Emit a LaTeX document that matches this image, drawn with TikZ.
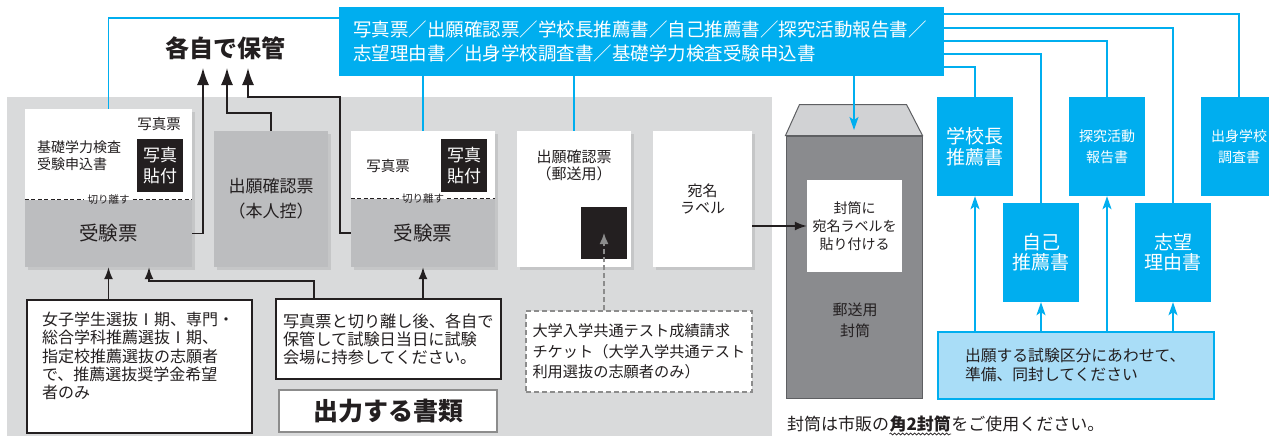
\documentclass[tikz,border=0pt]{standalone}
\usepackage{fontspec}
\setmainfont{Noto Sans CJK JP}
\usetikzlibrary{arrows.meta,calc,shadows,decorations.pathmorphing}

\definecolor{panelgray}{HTML}{D9DADB}
\definecolor{stubgray}{HTML}{BCBDBF}
\definecolor{docblue}{HTML}{00AEEF}
\definecolor{paleblue}{HTML}{A9DDF7}
\definecolor{envbody}{HTML}{8A8B8E}
\definecolor{envflap}{HTML}{D1D2D4}
\definecolor{envline}{HTML}{5E5F62}
\definecolor{inkblack}{HTML}{231F20}
\definecolor{linegray}{HTML}{8C8C8C}

\tikzset{
  card/.style={fill=white, inner sep=0pt, text=inkblack,
    drop shadow={shadow xshift=2.5pt, shadow yshift=-2.5pt, opacity=0.22}},
  stub/.style={fill=stubgray, inner sep=0pt, text=inkblack, font=\fontsize{19.5}{22}\selectfont},
  kiri/.style={inner xsep=3pt, inner ysep=0pt, text=inkblack, font=\fontsize{10.5}{11}\selectfont},
  cut/.style={draw=inkblack, line width=1pt, dash pattern=on 4pt off 2.5pt},
  photo/.style={fill=inkblack, text=white, inner sep=0pt, align=center,
    minimum width=46, minimum height=53, font=\fontsize{17}{21}\selectfont},
  lbl/.style={inner sep=0pt, text=inkblack, font=\fontsize{14.5}{17}\selectfont},
  bluebox/.style={fill=docblue, text=white, inner sep=0pt, align=center},
  smallblue/.style={bluebox, minimum width=76, minimum height=99},
  blackbox/.style={draw=inkblack, line width=1.6pt, fill=white, text=inkblack, align=left,
    inner ysep=0pt, font=\fontsize{16}{18.3}\selectfont},
  arr/.style={draw=inkblack, line width=1.5pt, -{Latex[length=12pt,width=9pt]}},
  bigarr/.style={draw=inkblack, line width=1.5pt, -{Latex[length=17pt,width=12pt]}},
  bline/.style={draw=docblue, line width=1.6pt},
  barr/.style={bline, -{Stealth[length=13pt,width=9pt,inset=3pt]}},
  tarr/.style={draw=linegray, line width=1.4pt, dash pattern=on 5pt off 3pt,
    -{Latex[length=11pt,width=9pt]}},
  note/.style={inner xsep=0pt, inner ysep=1pt, text=inkblack, font=\fontsize{17}{19}\selectfont}
}

\begin{document}
\begin{tikzpicture}[x=1pt,y=-1pt]
\useasboundingbox (0,0) rectangle (1269,439);
\fill[panelgray] (7,97) rectangle (772,436);

% keep
\node[text=inkblack, font=\fontsize{24}{28}\selectfont\bfseries] (hoshu) at (225,48) {各自で保管};
\coordinate (in1) at (203,68);
\coordinate (in2) at (227,68);
\coordinate (in3) at (248,68);
\coordinate (turn3) at (340,97);

% first card
\node[card, minimum width=167, minimum height=158] (card1) at (108.5,188) {};
\node[stub, minimum width=167, minimum height=67, anchor=south] (juken1) at (card1.south) {受験票};
\node[kiri] (kiri1) at (juken1.north) {切り離す};
\draw[cut] (juken1.north west) -- (kiri1.west) (kiri1.east) -- (juken1.north east);
\node[lbl] (hyo1) at (159,124) {写真票};
\node[lbl, align=left, anchor=west, font=\fontsize{14}{17}\selectfont] (kiso) at (37,155.5) {基礎学力検査\\受験申込書};
\node[photo] (photo1) at (160,165.5) {写真\\貼付};

\node[card, fill=stubgray, minimum width=114, minimum height=136, align=center,
  font=\fontsize{17}{25}\selectfont] (honnin) at (271,199) {出願確認票\\（本人控）};

% second card
\node[card, minimum width=144, minimum height=136] (card2) at (423,199) {};
\node[stub, minimum width=144, minimum height=68, anchor=south] (juken2) at (card2.south) {受験票};
\node[kiri] (kiri2) at (juken2.north) {切り離す};
\draw[cut] (juken2.north west) -- (kiri2.west) (kiri2.east) -- (juken2.north east);
\node[lbl] (hyo2) at (388,166) {写真票};
\node[photo] (photo2) at (464,165.5) {写真\\貼付};

\node[card, minimum width=114, minimum height=136] (yuso) at (574,199) {};
\node[lbl, align=center, font=\fontsize{15}{17}\selectfont] (yusoTxt) at (574,165.5) {出願確認票\\（郵送用）};
\node[fill=inkblack, minimum width=46, minimum height=52, inner sep=0pt] (kuro) at (604,233) {};

\node[card, minimum width=99, minimum height=136, align=center,
  font=\fontsize{15}{17}\selectfont] (label) at (702.5,199) {宛名\\ラベル};

% envelope
\node[draw=envline, line width=1pt, fill=envbody, minimum width=136, minimum height=262] (env) at (854,267) {};
\filldraw[draw=envline, line width=1pt, fill=envflap] (env.north west) -- ++(14,-31) -- ++(107,0) -- (env.north east) -- cycle;
\node[fill=white, minimum width=95, minimum height=92, inner sep=0pt, align=center, text=inkblack,
  font=\fontsize{14}{18}\selectfont] (atena) at (854.5,226) {封筒に\\宛名ラベルを\\貼り付ける};
\node[text=inkblack, align=center, font=\fontsize{15}{21}\selectfont] (fuutou) at (855,320.5) {郵送用\\封筒};
\coordinate (envin) at (854,130);

% blue documents
\node[bluebox, align=left, text width=577, inner xsep=14, minimum height=69,
  font=\fontsize{18.5}{24}\selectfont] (docs) at (641.5,41.5)
  {写真票／出願確認票／学校長推薦書／自己推薦書／探究活動報告書／\\志望理由書／出身学校調査書／基礎学力検査受験申込書};
\node[smallblue, font=\fontsize{19}{21}\selectfont] (gakko) at (975,146.5) {学校長\\推薦書};
\node[smallblue, font=\fontsize{14}{21}\selectfont] (tankyu) at (1107,146.5) {探究活動\\報告書};
\node[smallblue, font=\fontsize{14}{21}\selectfont] (shuushin) at (1239,146.5) {出身学校\\調査書};
\node[smallblue, font=\fontsize{19}{20}\selectfont] (jiko) at (1041,252.5) {自己\\推薦書};
\node[smallblue, font=\fontsize{19}{20}\selectfont] (shibo) at (1173,252.5) {志望\\理由書};
\node[draw=docblue, line width=1.6pt, fill=paleblue, text=inkblack, align=left, text width=222,
  inner xsep=27, inner ysep=0pt, minimum height=67, font=\fontsize{15.8}{19}\selectfont] (junbi) at (1076,365.5)
  {出願する試験区分にあわせて、\\準備、同封してください};

% bottom left
\node[draw=inkblack, line width=1.6pt, fill=white, minimum width=225, minimum height=133] (shigan) at (139.5,366.5) {};
\node[blackbox, draw=none, fill=none, anchor=north west, inner xsep=0pt] (shiganTxt) at ($(shigan.north west)+(15,12)$)
  {女子学生選抜Ⅰ期、専門・\\総合学科推薦選抜Ⅰ期、\\指定校推薦選抜の志願者\\で、推薦選抜奨学金希望\\者のみ};
\node[blackbox, text width=211, inner xsep=7, minimum height=80, font=\fontsize{16.2}{18}\selectfont] (hokan) at (388.5,339)
  {写真票と切り離し後、各自で\\保管して試験日当日に試験\\会場に持参してください。};
\node[draw=linegray, line width=1.6pt, fill=white, minimum width=218, minimum height=42, inner sep=0pt,
  text=inkblack, font=\fontsize{25}{27}\selectfont\bfseries] (shuturyoku) at (388,411) {出力する書類};
\node[draw=linegray, line width=1.4pt, dash pattern=on 5pt off 3pt, fill=white, text=inkblack, align=left,
  text width=213, inner xsep=6.5, inner ysep=0pt, minimum height=81,
  font=\fontsize{15.2}{20.5}\selectfont] (ticket) at (639,351.5)
  {大学入学共通テスト成績請求\\チケット（大学入学共通テスト\\利用選抜の志願者のみ）};
\coordinate (j1b) at ($(juken1.south)+(40.5,0)$);

% note
\node[note, anchor=base west] (noteA) at (787,430) {封筒は市販の};
\node[note, anchor=base west, font=\fontsize{17}{19}\selectfont\bfseries] (noteB) at (noteA.base east) {角2封筒};
\node[note, anchor=base west] (noteC) at (noteB.base east) {をご使用ください。};
\draw[inkblack, line width=0.6pt, decorate, decoration={snake, amplitude=1pt, segment length=4pt}]
  ($(noteB.base west)+(0,4)$) -- ($(noteB.base east)+(0,4)$);

% black connectors
\draw[bigarr] (juken1.east) -| (in1);
\draw[bigarr] (honnin.north) -- ++(0,-18) -| (in2);
\draw[bigarr] (juken2.west) -| (turn3) -| (in3);
\draw[arr] (shigan.north -| juken1.south) -- (juken1.south);
\draw[arr] ($(hokan.north west)+(39,0)$) -- ++(0,-17) -| (j1b);
\draw[arr] (hokan.north -| juken2.south) -- (juken2.south);
\draw[arr] (label.east |- atena.west) -- (atena.west);
\draw[tarr] (ticket.north -| kuro.center) -- (kuro.center);

% blue connectors
\draw[bline] ($(docs.north west)+(0,11)$) -| (card1.north);
\draw[bline] (card2.north |- docs.south) -- (card2.north);
\draw[bline] (yuso.north |- docs.south) -- (yuso.north);
\draw[barr] (envin |- docs.south) -- (envin);
\draw[bline] ($(docs.north east)+(0,7)$) -| (shuushin.north);
\draw[bline] ($(docs.north east)+(0,21)$) -| (shibo.north);
\draw[bline] ($(docs.north east)+(0,34)$) -| (tankyu.north);
\draw[bline] ($(docs.north east)+(0,47)$) -| (jiko.north);
\draw[bline] ($(docs.north east)+(0,60)$) -| (gakko.north);
\draw[barr] (junbi.north -| gakko.south) -- (gakko.south);
\draw[barr] (junbi.north -| jiko.south) -- (jiko.south);
\draw[barr] (junbi.north -| tankyu.south) -- (tankyu.south);
\draw[barr] (junbi.north -| shibo.south) -- (shibo.south);
\end{tikzpicture}
\end{document}
